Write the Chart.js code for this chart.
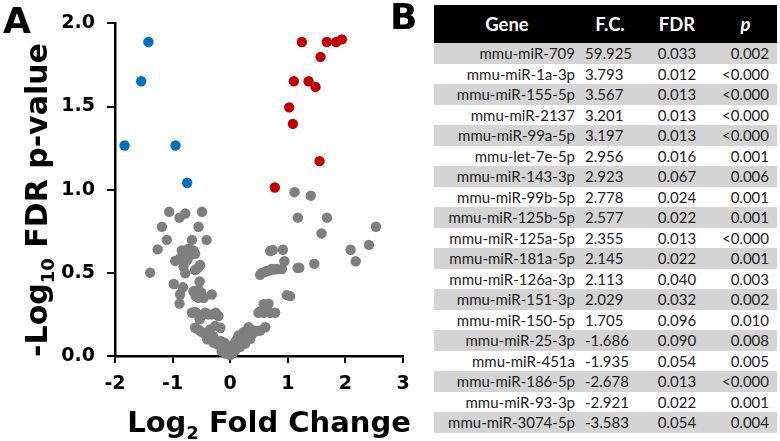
<!DOCTYPE html>
<html>
<head>
<meta charset="utf-8">
<script src="https://cdn.jsdelivr.net/npm/chart.js@4"></script>
<style>
  body { margin: 0; background: #fff; width: 780px; height: 441px; overflow: hidden; position: relative; }
  #volcano { position: absolute; left: 0; top: 0; }
  .panel { position: absolute; font-family: "DejaVu Sans"; font-weight: bold; font-size: 36px; line-height: 1; color: #000; }
  #tabla { position: absolute; left: 434px; top: 5px; width: 343px; border-collapse: collapse; table-layout: fixed;
           font-family: Lato, sans-serif; font-size: 15px; color: #222; }
  #tabla th { background: #000; color: #fff; font-size: 18.5px; font-weight: bold; height: 38px; padding: 0; text-align: center; }
  #tabla td { height: 20.5px; padding: 0; line-height: 20px; white-space: nowrap; }
  #tabla tr.gris td { background: #d4d4d4; }
  #tabla td.gen { text-align: right; padding-right: 5px; }
  #tabla td.fc { text-align: left; padding-left: 5px; }
  #tabla td.fdr { text-align: center; }
  #tabla td.p { text-align: right; padding-right: 8px; }
</style>
</head>
<body>
<canvas id="volcano" width="430" height="441"></canvas>
<div class="panel" style="left:3px; top:3px;">A</div>
<div class="panel" style="left:390px; top:-1px;">B</div>
<table id="tabla">
  <colgroup><col style="width:146px"><col style="width:60px"><col style="width:74px"><col style="width:63px"></colgroup>
  <thead><tr id="cabecera"></tr></thead>
  <tbody id="cuerpo"></tbody>
</table>

<script>
// ========= Datos del volcano (log2 FC, -log10 FDR) =========
const bajaExpresion = [[-1.42, 1.888], [-1.545, 1.652], [-1.834, 1.266], [-0.949, 1.266], [-0.747, 1.042]];
const altaExpresion = [[1.244, 1.888], [1.678, 1.888], [1.84, 1.888], [1.939, 1.904], [1.568, 1.799], [1.105, 1.652],
  [1.36, 1.652], [1.481, 1.618], [1.024, 1.495], [1.088, 1.396], [1.551, 1.172], [0.775, 1.013]];
const sinCambio = [
  [-1.06, 0.867], [-0.88, 0.832], [-0.78, 0.857], [-0.49, 0.867], [-1.186, 0.777], [-0.55, 0.777],
  [-1.1, 0.698], [-0.665, 0.698], [-0.41, 0.698], [-1.26, 0.641],
  [-0.84, 0.635], [-0.72, 0.645], [-0.64, 0.635], [-0.81, 0.606], [-0.69, 0.606], [-0.61, 0.615],
  [-0.87, 0.586], [-0.75, 0.576], [-0.78, 0.63], [-0.66, 0.62], [-0.73, 0.595], [-0.955, 0.572], [-1.389, 0.501],
  [-0.81, 0.537], [-0.78, 0.497], [-0.61, 0.517], [-0.52, 0.547], [-0.56, 0.53],
  [-0.53, 0.448], [-0.98, 0.433], [-0.82, 0.413], [-0.87, 0.37], [-0.88, 0.315],
  [-0.64, 0.389], [-0.55, 0.399], [-0.46, 0.35], [-0.32, 0.37], [-0.55, 0.35], [-0.6, 0.36], [-0.5, 0.38],
  [-0.665, 0.26], [-0.55, 0.25], [-0.434, 0.26], [-0.318, 0.25], [-0.203, 0.24], [-0.49, 0.245], [-0.61, 0.265],
  [-0.38, 0.25], [-0.25, 0.26], [-0.53, 0.22],
  [-0.61, 0.17], [-0.52, 0.15], [-0.43, 0.13], [-0.35, 0.16], [-0.26, 0.18], [-0.17, 0.17], [-0.56, 0.16],
  [-0.47, 0.14], [-0.3, 0.12],
  [-0.4, 0.1], [-0.29, 0.08], [-0.17, 0.09], [-0.12, 0.05], [-0.06, 0.03], [0.0, 0.006], [-0.35, 0.11],
  [-0.22, 0.07], [-0.1, 0.08], [-0.15, 0.03], [-0.04, 0.06], [-0.08, 0.015], [-0.02, 0.02],
  [0.05, 0.02], [0.03, 0.04], [0.087, 0.084], [0.145, 0.124], [0.174, 0.055], [0.231, 0.143], [0.26, 0.075],
  [0.318, 0.173], [0.347, 0.104], [0.405, 0.153], [0.52, 0.153], [0.61, 0.173], [0.12, 0.1], [0.2, 0.11],
  [0.29, 0.12], [0.38, 0.13], [0.46, 0.15], [0.1, 0.04], [0.22, 0.09], [0.15, 0.07], [0.07, 0.06],
  [0.49, 0.26], [0.58, 0.26], [0.69, 0.26], [0.78, 0.26], [0.58, 0.311], [0.665, 0.315], [0.62, 0.29], [0.53, 0.27],
  [0.984, 0.366], [1.04, 0.36],
  [0.52, 0.488], [0.55, 0.5], [0.637, 0.511], [0.72, 0.523], [0.81, 0.523], [0.897, 0.523], [0.6, 0.505],
  [0.68, 0.515], [0.76, 0.52],
  [0.694, 0.631], [0.74, 0.637], [0.915, 0.639], [0.94, 0.57],
  [1.117, 0.985], [1.4, 0.964], [1.175, 0.832], [1.68, 0.832], [1.585, 0.737], [2.53, 0.777], [2.41, 0.668],
  [2.09, 0.639], [2.18, 0.57], [1.2, 0.531], [1.17, 0.53], [1.46, 0.555]
];
const ticksX = [-2, -1, 0, 1, 2, 3];
const ticksY = [0, 0.5, 1, 1.5, 2];

// ========= Datos de la tabla =========
const columnas = ["Gene", "F.C.", "FDR", "p"];
const genes = ["mmu-miR-709", "mmu-miR-1a-3p", "mmu-miR-155-5p", "mmu-miR-2137", "mmu-miR-99a-5p", "mmu-let-7e-5p",
  "mmu-miR-143-3p", "mmu-miR-99b-5p", "mmu-miR-125b-5p", "mmu-miR-125a-5p", "mmu-miR-181a-5p", "mmu-miR-126a-3p",
  "mmu-miR-151-3p", "mmu-miR-150-5p", "mmu-miR-25-3p", "mmu-miR-451a", "mmu-miR-186-5p", "mmu-miR-93-3p", "mmu-miR-3074-5p"];
const foldChange = ["59.925", "3.793", "3.567", "3.201", "3.197", "2.956", "2.923", "2.778", "2.577", "2.355", "2.145",
  "2.113", "2.029", "1.705", "-1.686", "-1.935", "-2.678", "-2.921", "-3.583"];
const fdr = ["0.033", "0.012", "0.013", "0.013", "0.013", "0.016", "0.067", "0.024", "0.022", "0.013", "0.022",
  "0.040", "0.032", "0.096", "0.090", "0.054", "0.013", "0.022", "0.054"];
const pValor = ["0.002", "<0.000", "<0.000", "<0.000", "<0.000", "0.001", "0.006", "0.001", "0.001", "<0.000", "0.001",
  "0.003", "0.002", "0.010", "0.008", "0.005", "<0.000", "0.001", "0.004"];

// ========= Tabla =========
function armarTabla() {
  const cab = document.getElementById("cabecera");
  columnas.forEach((c, i) => {
    const th = document.createElement("th");
    th.textContent = c;
    if (i === 3) th.style.fontStyle = "italic";
    cab.appendChild(th);
  });
  const cuerpo = document.getElementById("cuerpo");
  genes.forEach((g, i) => {
    const fila = document.createElement("tr");
    if (i % 2 === 0) fila.className = "gris";
    fila.innerHTML = `<td class="gen">${g}</td><td class="fc">${foldChange[i]}</td>` +
      `<td class="fdr">${fdr[i]}</td><td class="p">${pValor[i].replace("<", "&lt;")}</td>`;
    cuerpo.appendChild(fila);
  });
}

// ========= Títulos de ejes con subíndice =========
function textoConSub(ctx, partes, x, y, tam, tamSub, bajada) {
  // partes: [texto, esSub]
  let ancho = 0;
  partes.forEach(([t, sub]) => {
    ctx.font = `bold ${sub ? tamSub : tam}px "DejaVu Sans"`;
    ancho += ctx.measureText(t).width;
  });
  let cx = x - ancho / 2;
  partes.forEach(([t, sub]) => {
    ctx.font = `bold ${sub ? tamSub : tam}px "DejaVu Sans"`;
    ctx.fillText(t, cx, sub ? y + bajada : y);
    cx += ctx.measureText(t).width;
  });
}

const titulosEjes = {
  id: "titulosEjes",
  afterDraw(chart) {
    const ctx = chart.ctx;
    ctx.save();
    ctx.fillStyle = "#000";
    ctx.textBaseline = "alphabetic";
    ctx.textAlign = "left";
    textoConSub(ctx, [["Log", false], ["2", true], [" Fold Change", false]], 269, 432, 29, 18, 7);
    ctx.translate(47, 200);
    ctx.rotate(-Math.PI / 2);
    textoConSub(ctx, [["-Log", false], ["10", true], [" FDR p-value", false]], 0, 0, 30, 18, 7);
    ctx.restore();
  }
};

// ========= Gráfico =========
function aPuntos(lista) {
  return lista.map(([x, y]) => ({ x, y }));
}

function dibujarVolcano() {
  const fuenteTicks = { family: "DejaVu Sans", weight: "bold", size: 19 };
  new Chart(document.getElementById("volcano"), {
    type: "scatter",
    data: {
      datasets: [
        { data: aPuntos(sinCambio), backgroundColor: "#7f7f7f", pointRadius: 5.2, borderWidth: 0, clip: false },
        { data: aPuntos(bajaExpresion), backgroundColor: "#0070c0", pointRadius: 5.2, borderWidth: 0, clip: false },
        { data: aPuntos(altaExpresion), backgroundColor: "#c00000", pointRadius: 5.2, borderWidth: 0, clip: false }
      ]
    },
    options: {
      responsive: false,
      animation: false,
      events: [],
      layout: { padding: { top: 17, right: 27, left: 0, bottom: 0 } },
      plugins: { legend: { display: false }, tooltip: { enabled: false } },
      scales: {
        x: {
          type: "linear", min: ticksX[0], max: ticksX[ticksX.length - 1],
          afterBuildTicks: s => { s.ticks = ticksX.map(v => ({ value: v })); },
          afterFit: s => { s.height = 85; },
          ticks: { font: fuenteTicks, color: "#000", padding: 10, callback: v => String(v) },
          grid: { drawOnChartArea: false, color: "#000", lineWidth: 2, tickLength: 7 },
          border: { color: "#000", width: 2.5 }
        },
        y: {
          type: "linear", min: ticksY[0], max: ticksY[ticksY.length - 1],
          afterBuildTicks: s => { s.ticks = ticksY.map(v => ({ value: v })); },
          afterFit: s => { s.width = 115; },
          ticks: { font: fuenteTicks, color: "#000", padding: 12, callback: v => v.toFixed(1) },
          grid: { drawOnChartArea: false, color: "#000", lineWidth: 2, tickLength: 8 },
          border: { color: "#000", width: 2.5 }
        }
      }
    },
    plugins: [titulosEjes]
  });
}

// ========= Init =========
armarTabla();
dibujarVolcano();
</script>
</body>
</html>
